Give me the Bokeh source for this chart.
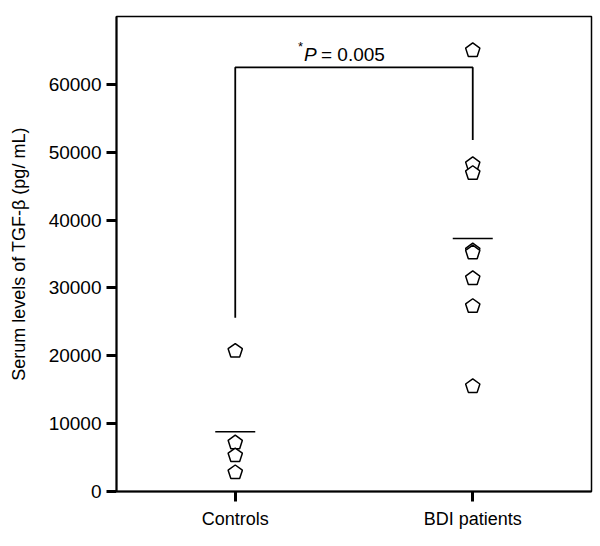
from bokeh.plotting import figure
from bokeh.models import Range1d, FixedTicker, ColumnDataSource
from bokeh.core.properties import value
from bokeh.embed import file_html
from bokeh.resources import INLINE

# ---- data ----
categories = ["Controls", "BDI patients"]
controls_vals = [20700, 7200, 5300, 2800]
bdi_vals = [65000, 48200, 46900, 35500, 35200, 31400, 27300, 15500]
mean_vals = [8800, 37300]
y_ticks = [0, 10000, 20000, 30000, 40000, 50000, 60000]
bracket_y = [25600, 62500, 62500, 51800]
p_text = "0.005"
p_label_y = 64400

cat_pos = [1, 2]

p = figure(width=600, height=546, output_backend="svg", toolbar_location=None,
           x_range=Range1d(0.5, 2.5), y_range=Range1d(0, 70000),
           min_border_left=116, min_border_right=9, min_border_top=16, min_border_bottom=55)
p.background_fill_color = "white"
p.border_fill_color = "white"
p.outline_line_color = "black"
p.outline_line_width = 1.5
p.xgrid.visible = False
p.ygrid.visible = False

# axes
p.yaxis.ticker = FixedTicker(ticks=y_ticks)
p.yaxis.formatter.use_scientific = False
p.yaxis.axis_label = "Serum levels of TGF-\u03b2 (pg/ mL)"
p.yaxis.axis_label_text_font = "Liberation Sans"
p.yaxis.axis_label_text_font_size = "18px"
p.yaxis.axis_label_text_font_style = "normal"
p.yaxis.axis_label_text_color = "black"
p.yaxis.axis_label_standoff = 17
p.xaxis.ticker = FixedTicker(ticks=cat_pos)
p.xaxis.major_label_overrides = {c: n for c, n in zip(cat_pos, categories)}
for ax in (p.xaxis, p.yaxis):
    ax.axis_line_color = "black"
    ax.axis_line_width = 2
    ax.major_tick_line_color = "black"
    ax.major_tick_line_width = 3
    ax.major_tick_out = 10
    ax.major_tick_in = 0
    ax.minor_tick_line_color = None
    ax.major_label_text_font = "Liberation Sans"
    ax.major_label_text_color = "black"
p.yaxis.major_label_text_font_size = "19px"
p.yaxis.major_label_standoff = 5
p.xaxis.major_label_text_font_size = "18px"
p.xaxis.major_label_standoff = 7

# bracket
bx = [cat_pos[0], cat_pos[0], cat_pos[1], cat_pos[1]]
p.line(bx, bracket_y, line_color="black", line_width=1.8)

# mean lines
p.scatter(cat_pos, mean_vals, marker="dash", size=40, line_color="black", line_width=1.5)

# points
xs = [cat_pos[0]] * len(controls_vals) + [cat_pos[1]] * len(bdi_vals)
ys = controls_vals + bdi_vals
src = ColumnDataSource(dict(x=xs, y=ys))
p.ngon(x="x", y="y", radius=7.5, radius_units="screen", n=5, angle=0,
       source=src, fill_color="white", line_color="black", line_width=1.5)

# p-value annotation
mid_x = (cat_pos[0] + cat_pos[1]) / 2
p.text([mid_x], [p_label_y], text=["*"], x_offset=-56, y_offset=-8,
       text_font=value("Liberation Sans"), text_font_size="13px",
       text_baseline="alphabetic", text_align="left", text_color="black")
p.text([mid_x], [p_label_y], text=["P"], x_offset=-50,
       text_font=value("Liberation Sans"), text_font_size="19px", text_font_style="italic",
       text_baseline="alphabetic", text_align="left", text_color="black")
p.text([mid_x], [p_label_y], text=["= " + p_text], x_offset=-33,
       text_font=value("Liberation Sans"), text_font_size="19px",
       text_baseline="alphabetic", text_align="left", text_color="black")

open("out.html", "w").write(file_html(p, INLINE))
